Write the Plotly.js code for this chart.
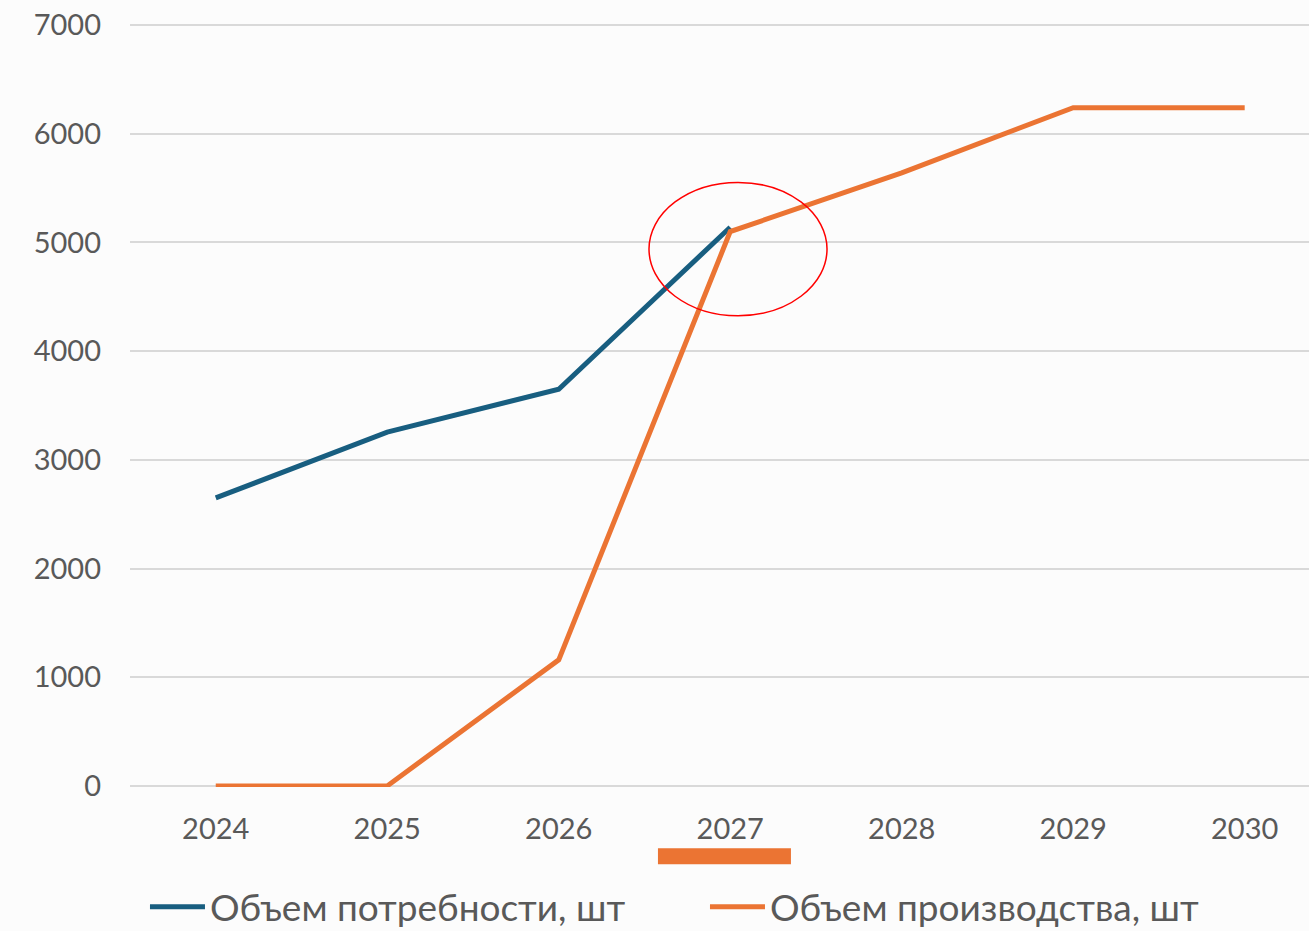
<!DOCTYPE html>
<html>
<head>
<meta charset="utf-8">
<script src="https://cdn.plot.ly/plotly-3.0.1.min.js"></script>
<style>
html,body{margin:0;padding:0;background:#fcfcfc;}
#chart{width:1309px;height:931px;}
</style>
</head>
<body>
<div id="chart"></div>
<script>
const years = ['2024','2025','2026','2027','2028','2029','2030'];
const demandYears = ['2024','2025','2026','2027'];
const demand = [2650, 3255, 3650, 5140];
const production = [0, 0, 1160, 5100, 5640, 6240, 6240];
const yTicks = [0, 1000, 2000, 3000, 4000, 5000, 6000, 7000];

const FONT = 'Lato, "Open Sans", sans-serif';
const GREY = '#595959';

const traces = [
  {x: demandYears, y: demand, type: 'scatter', mode: 'lines',
   name: 'Объем потребности, шт',
   line: {color: '#185E80', width: 5}},
  {x: years, y: production, type: 'scatter', mode: 'lines',
   name: 'Объем производства, шт',
   line: {color: '#EB7433', width: 5}}
];

const layout = {
  width: 1309, height: 931,
  paper_bgcolor: '#fcfcfc', plot_bgcolor: '#fcfcfc',
  margin: {l: 130, r: 0, t: 24, b: 144, autoexpand: false},
  font: {family: FONT, color: GREY},
  showlegend: true,
  xaxis: {type: 'category', range: [-0.5, 6.375], showgrid: false, zeroline: false,
          showline: false, ticks: '', tickfont: {size: 29, color: GREY},
          ticklabelstandoff: 22, fixedrange: true},
  yaxis: {range: [-10, 7010], tickvals: yTicks, showgrid: true, gridcolor: '#d9d9d9',
          gridwidth: 2, zeroline: false, showline: false, ticks: '',
          tickfont: {size: 29, color: GREY}, ticklabelstandoff: 28, fixedrange: true},
  legend: {orientation: 'h', x: 0.0127, xanchor: 'left', y: -0.117, yanchor: 'top',
           font: {size: 37, color: GREY, family: FONT}, itemwidth: 55,
           entrywidth: 490, entrywidthmode: 'pixels',
           bgcolor: 'rgba(0,0,0,0)', traceorder: 'normal'},
  shapes: [
    {type: 'circle', xref: 'paper', yref: 'paper',
     x0: 0.4402, x1: 0.5912, y0: 0.6176, y1: 0.7924,
     line: {color: '#ff0000', width: 1.5}},
    {type: 'rect', xref: 'paper', yref: 'paper',
     x0: 0.4478, x1: 0.5606, y0: -0.1012, y1: -0.0802,
     fillcolor: '#EB7433', line: {width: 0}}
  ]
};

Plotly.newPlot('chart', traces, layout, {displayModeBar: false, staticPlot: true});
</script>
</body>
</html>
